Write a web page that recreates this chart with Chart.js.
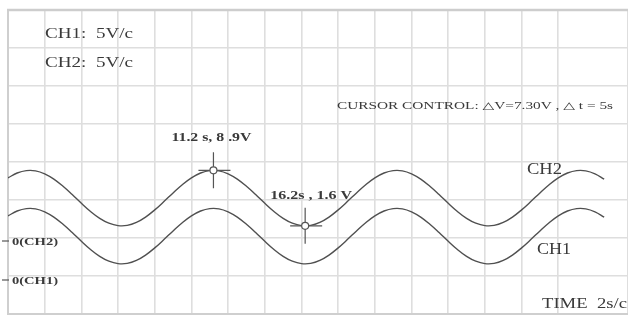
<!DOCTYPE html>
<html><head><meta charset="utf-8">
<script src="https://cdn.jsdelivr.net/npm/chart.js@4.4.1/dist/chart.umd.min.js"></script>
<style>html,body{margin:0;padding:0;background:#fff;overflow:hidden}#wrap{width:628px;height:320px;position:relative}</style>
</head><body><div id="wrap"><canvas id="c" width="628" height="320"></canvas></div>
<script>
const timeSec = [0,0.5,1,1.5,2,2.5,3,3.5,4,4.5,5,5.5,6,6.5,7,7.5,8,8.5,9,9.5,
  10,10.5,11,11.5,12,12.5,13,13.5,14,14.5,15,15.5,16,16.5,17,17.5,18,18.5,19,19.5,
  20,20.5,21,21.5,22,22.5,23,23.5,24,24.5,25,25.5,26,26.5,27,27.5,28,28.5,29,29.5,
  30,30.5,31,31.5,32,32.5];
// CH2 voltage (V)
const ch2Volts = [7.91,8.55,8.87,8.84,8.45,7.75,6.80,5.71,4.57,3.49,2.59,1.95,1.63,1.66,2.05,2.75,3.70,4.79,5.93,7.01,
  7.91,8.55,8.87,8.84,8.45,7.75,6.80,5.71,4.57,3.49,2.59,1.95,1.63,1.66,2.05,2.75,3.70,4.79,5.93,7.01,
  7.91,8.55,8.87,8.84,8.45,7.75,6.80,5.71,4.57,3.49,2.59,1.95,1.63,1.66,2.05,2.75,3.70,4.79,5.93,7.01,
  7.91,8.55,8.87,8.84,8.45,7.75];
// CH1 voltage (V)
const ch1Volts = [7.91,8.55,8.87,8.84,8.45,7.75,6.80,5.71,4.57,3.49,2.59,1.95,1.63,1.66,2.05,2.75,3.70,4.79,5.93,7.01,
  7.91,8.55,8.87,8.84,8.45,7.75,6.80,5.71,4.57,3.49,2.59,1.95,1.63,1.66,2.05,2.75,3.70,4.79,5.93,7.01,
  7.91,8.55,8.87,8.84,8.45,7.75,6.80,5.71,4.57,3.49,2.59,1.95,1.63,1.66,2.05,2.75,3.70,4.79,5.93,7.01,
  7.91,8.55,8.87,8.84,8.45,7.75];
// Cursors
const cursorTimes = [11.2, 16.2];
const cursorVolts = [8.9, 1.6];
const cursorLabels = ['11.2 s, 8 .9V', '16.2s , 1.6 V'];
// Screen texts
const scaleLabels = ['CH1:  5V/c', 'CH2:  5V/c'];
const cursorInfo = 'CURSOR CONTROL: \u25B3V=7.30V , \u25B3 t = 5s';
const timeLabel = 'TIME  2s/c';
const traceNames = ['CH2', 'CH1'];
const groundLabels = ['0(CH2)', '0(CH1)'];

const SERIF = '"Liberation Serif", "DejaVu Serif", serif';
const INK = '#3a3a3a';

function fitText(ctx, text, x, y, font, width, align) {
  ctx.save();
  ctx.font = font;
  const w = ctx.measureText(text).width;
  const s = width / w;
  let left = x;
  if (align === 'center') left = x - width / 2;
  ctx.translate(left, y);
  ctx.scale(s, 1);
  ctx.textAlign = 'left';
  ctx.textBaseline = 'alphabetic';
  ctx.fillText(text, 0, 0);
  ctx.restore();
}

const overlay = {
  id: 'overlay',
  afterDraw(chart) {
    const ctx = chart.ctx;
    const xs = chart.scales.x, ys = chart.scales.y, ys1 = chart.scales.y1;
    const area = chart.chartArea;
    ctx.save();
    // darker top frame line
    ctx.strokeStyle = '#cdcdcd';
    ctx.lineWidth = 2.5;
    ctx.beginPath(); ctx.moveTo(area.left - 1, area.top); ctx.lineTo(area.right, area.top); ctx.stroke();
    ctx.fillStyle = INK;
    ctx.strokeStyle = '#555';
    // scale info
    fitText(ctx, scaleLabels[0], 45, 38, '15px ' + SERIF, 88);
    fitText(ctx, scaleLabels[1], 45, 67, '15px ' + SERIF, 88);
    fitText(ctx, cursorInfo, 337, 109, '10px ' + SERIF, 276);
    fitText(ctx, timeLabel, 542, 308, '14px ' + SERIF, 85);
    // trace names
    fitText(ctx, traceNames[0], 527, 174, '16px ' + SERIF, 35);
    fitText(ctx, traceNames[1], 537, 254, '16px ' + SERIF, 34);
    // ground markers
    const g2 = ys.getPixelForValue(0), g1 = ys1.getPixelForValue(0);
    ctx.lineWidth = 1.2;
    [[g2 + 3, groundLabels[0]], [g1 + 4, groundLabels[1]]].forEach(([gy, lab]) => {
      ctx.beginPath(); ctx.moveTo(2, gy); ctx.lineTo(9, gy); ctx.stroke();
      fitText(ctx, lab, 12, gy + 4, 'bold 11px ' + SERIF, 46);
    });
    // cursors
    cursorTimes.forEach((t, i) => {
      const px = xs.getPixelForValue(t), py = ys.getPixelForValue(cursorVolts[i]);
      ctx.strokeStyle = '#555';
      ctx.lineWidth = 1.2;
      ctx.beginPath();
      ctx.moveTo(px, py - 18); ctx.lineTo(px, py + 18);
      ctx.moveTo(px - 15, py); ctx.lineTo(px + 17, py);
      ctx.stroke();
      ctx.beginPath(); ctx.arc(px, py, 3.5, 0, Math.PI * 2);
      ctx.fillStyle = '#fff'; ctx.fill(); ctx.stroke();
      ctx.fillStyle = INK;
      if (i === 0) fitText(ctx, cursorLabels[i], px - 2, py - 29, 'bold 12px ' + SERIF, 80, 'center');
      else fitText(ctx, cursorLabels[i], px - 35, py - 27, 'bold 12px ' + SERIF, 82);
    });
    ctx.restore();
  }
};

const bg = {
  id: 'bg',
  beforeDraw(chart) {
    const ctx = chart.ctx;
    ctx.save(); ctx.fillStyle = '#fff'; ctx.fillRect(0, 0, chart.width, chart.height); ctx.restore();
  }
};

new Chart(document.getElementById('c'), {
  type: 'line',
  data: {
    datasets: [
      { label: 'CH2', data: timeSec.map((t, i) => ({ x: t, y: ch2Volts[i] })), yAxisID: 'y',
        borderColor: '#505050', borderWidth: 1.4, pointRadius: 0, tension: 0.4, fill: false },
      { label: 'CH1', data: timeSec.map((t, i) => ({ x: t, y: ch1Volts[i] })), yAxisID: 'y1',
        borderColor: '#505050', borderWidth: 1.4, pointRadius: 0, tension: 0.4, fill: false }
    ]
  },
  options: {
    responsive: false,
    animation: false,
    devicePixelRatio: 1,
    layout: { padding: { left: 8, top: 10, right: 0, bottom: 6 } },
    plugins: { legend: { display: false }, tooltip: { enabled: false } },
    scales: {
      x: { type: 'linear', min: 0, max: 33.8,
        ticks: { display: false, stepSize: 2 },
        grid: { color: '#dedede', lineWidth: 1.6, drawTicks: false },
        border: { display: true, color: '#cfcfcf', width: 2 } },
      y: { type: 'linear', min: -10, max: 30,
        ticks: { display: false, stepSize: 5 },
        grid: { color: '#dedede', lineWidth: 1.6, drawTicks: false },
        border: { display: true, color: '#cfcfcf', width: 2 } },
      y1: { type: 'linear', min: -5, max: 35, display: false }
    }
  },
  plugins: [bg, overlay]
});
</script>
</body></html>
